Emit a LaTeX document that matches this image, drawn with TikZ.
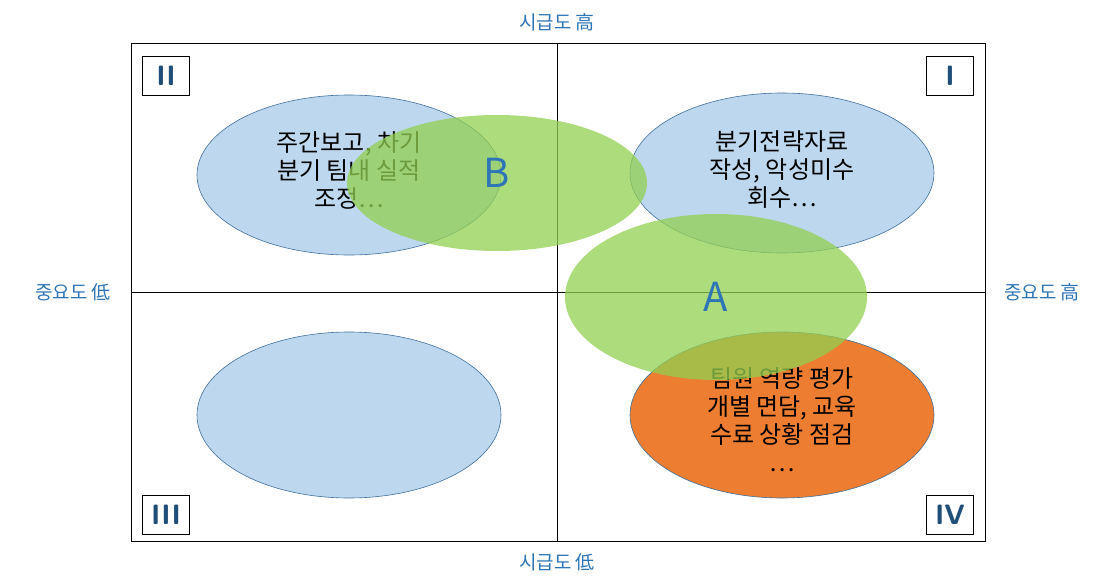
\documentclass[tikz,border=0pt]{standalone}
\usetikzlibrary{shapes.geometric}
\usepackage{fontspec}
\newfontfamily\kr{Noto Sans CJK KR}
\begin{document}
\begin{tikzpicture}[x=1pt,y=-1pt,
  bell/.style={draw=edc,fill=bl,line width=0.6pt,ellipse},
  grn/.style={fill=gr,fill opacity=0.75,draw=none},
  txt/.style={font=\kr\fontsize{24}{28}\selectfont,align=center,text=black},
  ax/.style={font=\kr\fontsize{19}{22}\selectfont,text=axc},
  num/.style={draw=black,line width=0.8pt,minimum width=47pt,minimum height=39pt,font=\sffamily\bfseries\fontsize{28}{30}\selectfont,text=numc},
  big/.style={font=\kr\fontsize{40}{44}\selectfont,text=axc}]
\definecolor{bl}{HTML}{BDD7EE}
\definecolor{gr}{HTML}{92D050}
\definecolor{orc}{HTML}{ED7D31}
\definecolor{axc}{HTML}{2E75B6}
\definecolor{numc}{HTML}{1F4E79}
\definecolor{edc}{HTML}{41719C}
\useasboundingbox (0,0) rectangle (1117,584);
\draw[line width=0.8pt] (131,43) rectangle (985,541);
\draw[line width=0.8pt] (557,43) -- (557,541);
\draw[line width=0.8pt] (131,292) -- (985,292);
\node[bell,minimum width=304pt,minimum height=160pt] (e2) at (349,175) {};
\node[bell,minimum width=304pt,minimum height=160pt] (e1) at (782,173) {};
\node[bell,minimum width=304pt,minimum height=166pt] (e3) at (349,415) {};
\node[bell,fill=orc,minimum width=304pt,minimum height=166pt] (e4) at (782,415) {};
\node[txt] (t2) at (349,170) {주간보고, 차기\\분기 팀내 실적\\조정…};
\node[txt] (t1) at (782,170) {분기전략자료\\작성, 악성미수\\회수…};
\node[txt] (t4) at (782,420) {팀원 역량 평가\\개별 면담, 교육\\수료 상황 점검\\…};
\fill[grn] (497,183) ellipse[x radius=150,y radius=68];
\fill[grn] (716,297) ellipse[x radius=151,y radius=83];
\node[big] (B) at (497,173) {B};
\node[big] (A) at (716,297) {A};
\node[num] (n2) at (166,76) {II};
\node[num] (n1) at (950,76) {I};
\node[num] (n3) at (166,515) {III};
\node[num] (n4) at (950,515) {IV};
\node[ax] (top) at (557,22) {시급도 高};
\node[ax] (bot) at (557,562) {시급도 低};
\node[ax] (lft) at (73,292) {중요도 低};
\node[ax] (rgt) at (1042,292) {중요도 高};
\end{tikzpicture}
\end{document}
